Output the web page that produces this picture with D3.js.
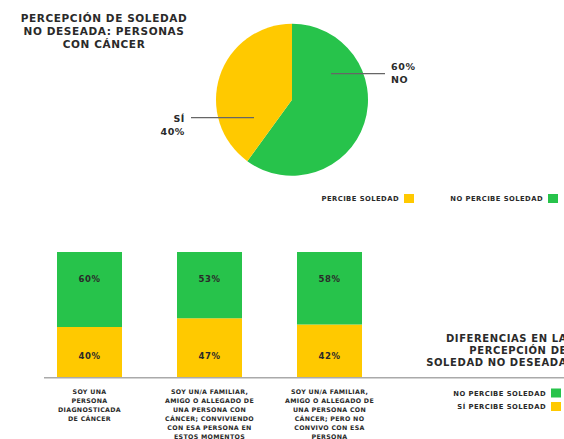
<!DOCTYPE html>
<html><head><meta charset="utf-8">
<script src="https://cdn.jsdelivr.net/npm/d3@7"></script>
<style>
html,body{margin:0;padding:0;background:#fff;}
svg{display:block;}
text{font-family:"DejaVu Sans",sans-serif;font-weight:bold;fill:#2a2a2a;}
</style></head><body>
<svg id="c" width="564" height="439"></svg>
<script>
// Pie data
const pieLabels = ["NO", "SÍ"];
const pieValues = [60, 40];
// Bar data
const categories = [
  ["SOY UNA", "PERSONA", "DIAGNOSTICADA", "DE CÁNCER"],
  ["SOY UN/A FAMILIAR,", "AMIGO O ALLEGADO DE", "UNA PERSONA CON", "CÁNCER; CONVIVIENDO", "CON ESA PERSONA EN", "ESTOS MOMENTOS"],
  ["SOY UN/A FAMILIAR,", "AMIGO O ALLEGADO DE", "UNA PERSONA CON", "CÁNCER; PERO NO", "CONVIVO CON ESA", "PERSONA"]
];
const noPercibe = [60, 53, 58];
const siPercibe = [40, 47, 42];
const yTicks = [0, 100];

const GREEN = "#27c34b", YELLOW = "#ffc900";
const svg = d3.select("#c");

// Title 1
const t1 = svg.append("text").attr("text-anchor","middle").style("font-size","10.5px").style("letter-spacing","0.6px");
["PERCEPCIÓN DE SOLEDAD","NO DESEADA: PERSONAS","CON CÁNCER"].forEach((s,i)=>
  t1.append("tspan").attr("x",104).attr("y",22+i*13).text(s));

// Pie
const cx = 292, cy = 99.7, r = 76;
const pie = d3.pie().sort(null).value(d=>d)(pieValues);
const arc = d3.arc().innerRadius(0).outerRadius(r);
const pg = svg.append("g").attr("transform",`translate(${cx},${cy})`);
pg.selectAll("path").data(pie).join("path").attr("d",arc)
  .attr("fill",(d,i)=>i===0?GREEN:YELLOW);

// Leader lines
const lineC = "#666";
pg.append("line").attr("x1",331-cx).attr("x2",385-cx).attr("y1",73.7-cy).attr("y2",73.7-cy).attr("stroke",lineC).attr("stroke-width",1.3);
pg.append("line").attr("x1",191-cx).attr("x2",254-cx).attr("y1",117.7-cy).attr("y2",117.7-cy).attr("stroke",lineC).attr("stroke-width",1.3);
const pl1 = svg.append("text").style("font-size","9.5px").style("letter-spacing","0.6px");
pl1.append("tspan").attr("x",391).attr("y",69.5).text(pieValues[0]+"%");
pl1.append("tspan").attr("x",391).attr("y",82.5).text(pieLabels[0]);
const pl2 = svg.append("text").attr("text-anchor","end").style("font-size","9.5px").style("letter-spacing","0.6px");
pl2.append("tspan").attr("x",185).attr("y",121.5).text(pieLabels[1]);
pl2.append("tspan").attr("x",185).attr("y",135).text(pieValues[1]+"%");

// Legend 1
function legendItem(xEnd, y, label, color){
  svg.append("text").attr("x",xEnd).attr("y",y+2.5).attr("text-anchor","end")
    .style("font-size","6.8px").style("letter-spacing","0.45px").text(label);
  svg.append("rect").attr("x",xEnd+5).attr("y",y-4.5).attr("width",10).attr("height",9).attr("fill",color);
}
legendItem(399, 198.5, "PERCIBE SOLEDAD", YELLOW);
legendItem(543, 198.5, "NO PERCIBE SOLEDAD", GREEN);

// Bars
const x = d3.scaleBand().domain(d3.range(categories.length)).range([29.5,389.5]).paddingInner(55/120).paddingOuter(27.5/120);
const y = d3.scaleLinear().domain([yTicks[0], yTicks[1]]).range([377, 252]);
const bars = svg.append("g");
categories.forEach((c,i)=>{
  const x0 = x(i), w = x.bandwidth();
  bars.append("rect").attr("x",x0).attr("width",w).attr("y",y(siPercibe[i])).attr("height",y(0)-y(siPercibe[i])).attr("fill",YELLOW);
  bars.append("rect").attr("x",x0).attr("width",w).attr("y",y(siPercibe[i]+noPercibe[i])).attr("height",y(siPercibe[i])-y(siPercibe[i]+noPercibe[i])).attr("fill",GREEN);
  bars.append("text").attr("x",x0+w/2).attr("y",282).attr("text-anchor","middle").style("font-size","8.5px").style("letter-spacing","0.6px").text(noPercibe[i]+"%");
  bars.append("text").attr("x",x0+w/2).attr("y",358.5).attr("text-anchor","middle").style("font-size","8.5px").style("letter-spacing","0.6px").text(siPercibe[i]+"%");
  const t = bars.append("text").attr("text-anchor","middle").style("font-size","6.3px").style("letter-spacing","0.3px");
  c.forEach((s,j)=>t.append("tspan").attr("x",x0+w/2).attr("y",393.5+j*9).text(s));
});
// axis baseline
svg.append("line").attr("x1",44).attr("x2",564).attr("y1",377.8).attr("y2",377.8).attr("stroke","#aaa").attr("stroke-width",1.5);

// Title 2
const t2 = svg.append("text").attr("text-anchor","end").style("font-size","10px").style("letter-spacing","0.6px");
["DIFERENCIAS EN LA","PERCEPCIÓN DE","SOLEDAD NO DESEADA"].forEach((s,i)=>
  t2.append("tspan").attr("x",567).attr("y",342+i*12).text(s));

// Legend 2
legendItem(546, 393, "NO PERCIBE SOLEDAD", GREEN);
legendItem(546, 406.5, "SÍ PERCIBE SOLEDAD", YELLOW);
</script>
</body></html>
